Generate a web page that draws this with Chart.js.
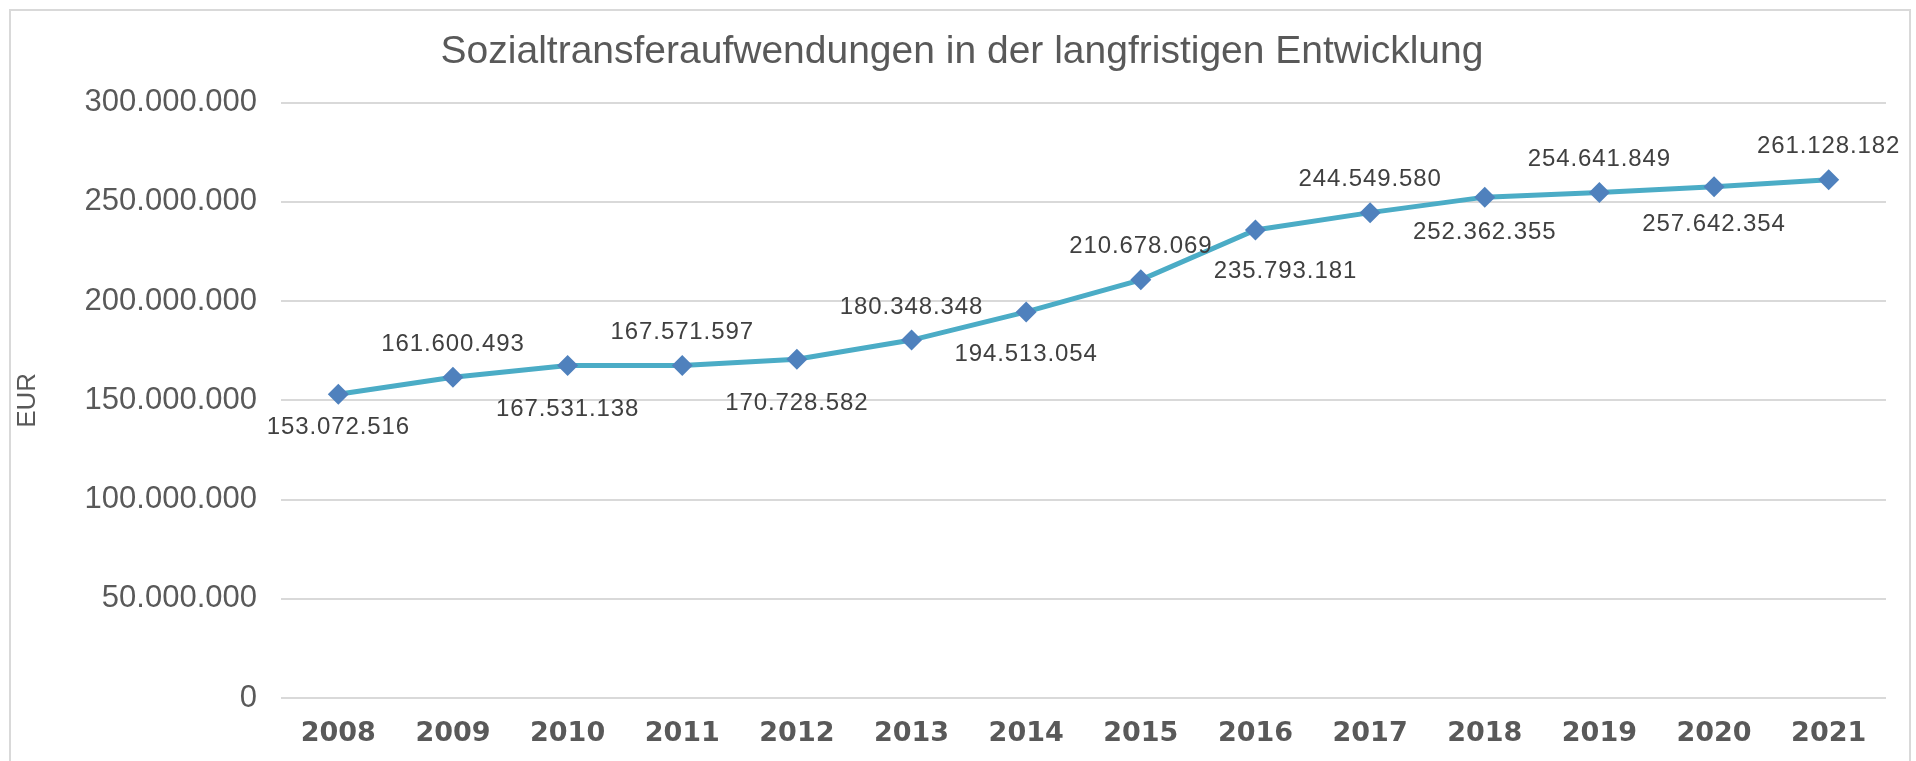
<!DOCTYPE html>
<html>
<head>
<meta charset="utf-8">
<script src="https://cdn.jsdelivr.net/npm/chart.js@4.4.1/dist/chart.umd.min.js"></script>
<style>
  html, body { margin: 0; padding: 0; background: #ffffff; overflow: hidden; }
  #frame { position: absolute; left: 9px; top: 9px; width: 1902px; height: 800px; border: 2px solid #d9d9d9; box-sizing: border-box; }
  #wrap { position: absolute; left: 0; top: 0; width: 1916px; height: 761px; }
</style>
</head>
<body>
<div id="frame"></div>
<div id="wrap"><canvas id="c" width="1916" height="761"></canvas></div>
<script>
const years = ["2008","2009","2010","2011","2012","2013","2014","2015","2016","2017","2018","2019","2020","2021"];
const values = [153072516, 161600493, 167531138, 167571597, 170728582, 180348348, 194513054, 210678069, 235793181, 244549580, 252362355, 254641849, 257642354, 261128182];
const yTicks = [0, 50000000, 100000000, 150000000, 200000000, 250000000, 300000000];
const chartTitle = "Sozialtransferaufwendungen in der langfristigen Entwicklung";
const yAxisTitle = "EUR";

const fmt = v => String(v).replace(/\B(?=(\d{3})+(?!\d))/g, ".");

// label placement: alternating above/below (style only)
const labelStyle = {
  above: 33,
  below: [33, 0, 44, 0, 44, 0, 42, 0, 41, 0, 35, 0, 38, 0],
  dx: [0, 0, 0, 0, 0, 0, 0, 0, 30, 0, 0, 0, 0, 0]
};

const titlePlugin = {
  id: 'titleText',
  afterDraw(chart) {
    const ctx = chart.ctx;
    ctx.save();
    ctx.font = '39px "Liberation Sans", Arial, sans-serif';
    ctx.fillStyle = '#595959';
    ctx.textAlign = 'center';
    ctx.textBaseline = 'middle';
    ctx.fillText(chartTitle, 962, 52);
    ctx.restore();
  }
};

const dataLabels = {
  id: 'dataLabels',
  afterDatasetsDraw(chart) {
    const ctx = chart.ctx;
    const meta = chart.getDatasetMeta(0);
    ctx.save();
    ctx.font = '24px "Liberation Sans", Arial, sans-serif';
    ctx.fillStyle = '#404040';
    ctx.textAlign = 'center';
    ctx.textBaseline = 'middle';
    try { ctx.letterSpacing = '0.9px'; } catch (e) {}
    meta.data.forEach((pt, i) => {
      const above = i % 2 === 1;
      const y = above ? pt.y - labelStyle.above : pt.y + labelStyle.below[i];
      ctx.fillText(fmt(values[i]), pt.x + labelStyle.dx[i], y);
    });
    ctx.restore();
  }
};

new Chart(document.getElementById('c'), {
  type: 'line',
  data: {
    labels: years,
    datasets: [{
      data: values,
      borderColor: '#4BACC6',
      borderWidth: 5,
      backgroundColor: '#4F81BD',
      pointStyle: 'rectRot',
      pointRadius: 10.5,
      pointHoverRadius: 10.5,
      pointBackgroundColor: '#4F81BD',
      pointBorderColor: '#4F81BD',
      pointBorderWidth: 0,
      tension: 0,
      fill: false
    }]
  },
  options: {
    responsive: false,
    animation: false,
    events: [],
    layout: { padding: { left: 0, right: 30, top: 102.6, bottom: 0 } },
    plugins: {
      legend: { display: false },
      tooltip: { enabled: false },
      title: { display: false }
    },
    scales: {
      x: {
        offset: true,
        grid: { display: false, drawTicks: false },
        border: { display: false },
        ticks: {
          color: '#595959',
          font: { family: '"DejaVu Sans", Verdana, sans-serif', size: 27, weight: 'bold', lineHeight: 1.2 },
          padding: 20,
          maxRotation: 0,
          autoSkip: false
        },
        afterFit(scale) { scale.height = 63; }
      },
      y: {
        min: 0,
        max: 300000000,
        afterBuildTicks(scale) { scale.ticks = yTicks.map(v => ({ value: v })); },
        grid: { color: '#d9d9d9', lineWidth: 2, drawTicks: false },
        border: { display: false },
        ticks: {
          color: '#595959',
          font: { family: '"Liberation Sans", Arial, sans-serif', size: 31 },
          padding: 24,
          callback: v => fmt(v)
        },
        title: {
          display: true,
          text: yAxisTitle,
          color: '#595959',
          font: { family: '"Liberation Sans", Arial, sans-serif', size: 26 },
          padding: { top: 12, bottom: 0 }
        },
        afterFit(scale) { scale.width = 281; }
      }
    }
  },
  plugins: [dataLabels, titlePlugin]
});
</script>
</body>
</html>
